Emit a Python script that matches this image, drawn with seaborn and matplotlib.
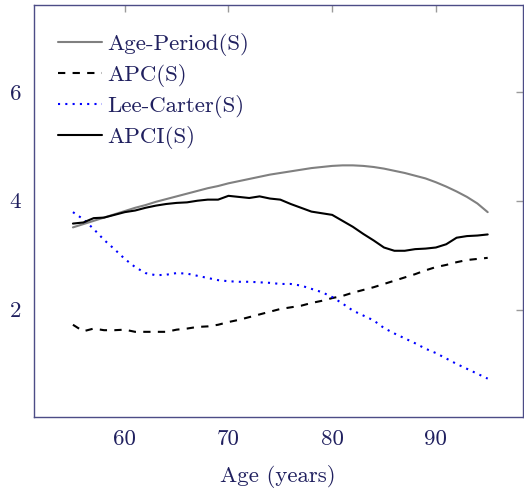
import numpy as np
import pandas as pd
import matplotlib
matplotlib.use("Agg")
import matplotlib.pyplot as plt
import seaborn as sns

ages = list(range(55, 96))

age_period = [3.51, 3.57, 3.63, 3.69, 3.75, 3.81, 3.87, 3.92, 3.98, 4.03, 4.08,
              4.13, 4.18, 4.23, 4.27, 4.32, 4.36, 4.40, 4.44, 4.48, 4.51,
              4.54, 4.57, 4.60, 4.62, 4.64, 4.65, 4.65, 4.64, 4.62, 4.59,
              4.55, 4.51, 4.46, 4.41, 4.34, 4.26, 4.17, 4.07, 3.95, 3.79]

apc = [1.72, 1.60, 1.65, 1.62, 1.62, 1.63, 1.59, 1.59, 1.59, 1.59, 1.63,
       1.65, 1.68, 1.69, 1.72, 1.77, 1.81, 1.86, 1.91, 1.96, 2.01,
       2.04, 2.07, 2.12, 2.16, 2.21, 2.25, 2.31, 2.36, 2.41, 2.47,
       2.53, 2.59, 2.65, 2.72, 2.78, 2.82, 2.87, 2.91, 2.93, 2.95]

lee_carter = [3.79, 3.66, 3.48, 3.28, 3.11, 2.93, 2.78, 2.67, 2.63, 2.64, 2.67,
              2.66, 2.62, 2.58, 2.54, 2.52, 2.51, 2.51, 2.50, 2.49, 2.47,
              2.47, 2.44, 2.38, 2.32, 2.23, 2.11, 1.98, 1.89, 1.80, 1.66,
              1.56, 1.47, 1.38, 1.28, 1.20, 1.10, 1.00, 0.91, 0.82, 0.73]

apci = [3.58, 3.60, 3.68, 3.69, 3.74, 3.79, 3.82, 3.87, 3.91, 3.94, 3.96,
        3.97, 4.00, 4.02, 4.02, 4.09, 4.07, 4.05, 4.08, 4.04, 4.02,
        3.94, 3.87, 3.80, 3.77, 3.74, 3.63, 3.52, 3.39, 3.27, 3.14,
        3.08, 3.08, 3.11, 3.12, 3.14, 3.20, 3.32, 3.35, 3.36, 3.38]

series_names = ["Age-Period(S)", "APC(S)", "Lee-Carter(S)", "APCI(S)"]
x_ticks = [60, 70, 80, 90]
y_ticks = [2, 4, 6]

df = pd.DataFrame({"Age": ages,
                   "Age-Period(S)": age_period,
                   "APC(S)": apc,
                   "Lee-Carter(S)": lee_carter,
                   "APCI(S)": apci})

sns.set_style("white")
plt.rcParams["font.family"] = ["cmr10", "DejaVu Serif"]
plt.rcParams["axes.formatter.use_mathtext"] = True
plt.rcParams["mathtext.fontset"] = "cm"

text_col = "#20205f"
spine_col = "#4c4c86"
fs = 16.5

fig = plt.figure(figsize=(5.24, 4.88), dpi=100)
ax = fig.add_axes([0.064, 0.145, 0.934, 0.845])

styles = {
    "Age-Period(S)": dict(color="#808080", linestyle="-", linewidth=1.5),
    "APC(S)": dict(color="black", linestyle=(0, (3.5, 3.5)), linewidth=1.5),
    "Lee-Carter(S)": dict(color="#0000ff", linestyle=(0, (1, 2.5)), linewidth=1.5),
    "APCI(S)": dict(color="black", linestyle="-", linewidth=1.5),
}
for name in series_names:
    sns.lineplot(data=df, x="Age", y=name, ax=ax, label=name, **styles[name])

ax.set_xlim(51.2, 98.4)
ax.set_ylim(0.02, 7.6)
ax.set_xticks(x_ticks)
ax.set_yticks(y_ticks)
ax.set_xticklabels([str(t) for t in x_ticks])
ax.set_yticklabels([str(t) for t in y_ticks])
ax.tick_params(direction="in", length=5, width=1, color="#9a9a9a",
               top=True, right=True, labelsize=fs, labelcolor=text_col, pad=9)
for s in ax.spines.values():
    s.set_color(spine_col)
    s.set_linewidth(1.0)
ax.set_xlabel("Age (years)", fontsize=fs, color=text_col, labelpad=11)
ax.set_ylabel("")

leg = ax.legend(loc="upper left", frameon=False, fontsize=fs,
                handlelength=1.9, handletextpad=0.23, labelspacing=0.35,
                borderaxespad=0.0, bbox_to_anchor=(0.032, 0.955))
for t in leg.get_texts():
    t.set_color(text_col)

fig.savefig("out.png", dpi=100)
